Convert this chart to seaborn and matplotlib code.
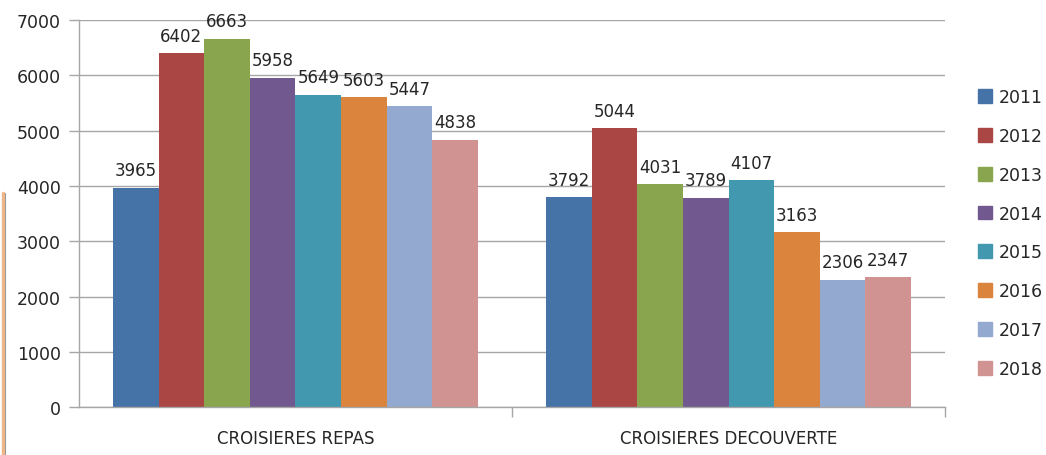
import numpy as np
import pandas as pd
import seaborn as sns
import matplotlib.pyplot as plt
from matplotlib.lines import Line2D

categories = ["CROISIERES REPAS", "CROISIERES DECOUVERTE"]
years = ["2011", "2012", "2013", "2014", "2015", "2016", "2017", "2018"]
repas = [3965, 6402, 6663, 5958, 5649, 5603, 5447, 4838]
decouverte = [3792, 5044, 4031, 3789, 4107, 3163, 2306, 2347]
colors = ["#4572A7", "#AA4643", "#89A54E", "#71588F", "#4198AF", "#DB843D", "#93A9CF", "#D19392"]

rows = []
for y, a, b in zip(years, repas, decouverte):
    rows.append({"cat": categories[0], "year": y, "value": a})
    rows.append({"cat": categories[1], "year": y, "value": b})
df = pd.DataFrame(rows)

sns.set_style("white")
plt.rcParams['font.family'] = ['DejaVu Sans']

fig = plt.figure(figsize=(10.46, 4.56), dpi=100)
ax = fig.add_axes([0.0755, 0.105, 0.828, 0.849])

sns.barplot(data=df, x="cat", y="value", hue="year", order=categories, hue_order=years,
            palette=colors, width=0.843, saturation=1, linewidth=0, ax=ax, legend=False)

for c in ax.containers:
    ax.bar_label(c, fmt="%d", padding=6, fontsize=12, color="#262626")

ax.set_ylim(0, 7000)
ax.set_xlim(-0.5, 1.5)
ax.set_yticks(range(0, 7001, 1000))
ax.yaxis.grid(True, color="#a6a6a6", linewidth=1)
ax.set_axisbelow(True)
ax.set_xlabel("")
ax.set_ylabel("")
ax.set_xticks([0, 1])
ax.set_xticklabels(categories, fontsize=12, color="#262626")
ax.set_xticks([0.5, 1.5], minor=True)
ax.tick_params(axis="x", which="major", length=0, pad=16)
ax.tick_params(axis="x", which="minor", length=7, color="#a6a6a6", width=1, direction="out",
               bottom=True)
ax.tick_params(axis="y", length=7, color="#a6a6a6", width=1, direction="out", labelsize=12.5,
               labelcolor="#262626", pad=6, left=True)
ax.spines["top"].set_visible(False)
ax.spines["right"].set_visible(False)
for s in ["left", "bottom"]:
    ax.spines[s].set_color("#a6a6a6")
    ax.spines[s].set_linewidth(1)

handles = [plt.Rectangle((0, 0), 1, 1, color=c) for c in colors]
fig.legend(handles, years, loc="upper left", bbox_to_anchor=(0.928, 0.82), frameon=False,
           fontsize=12.5, handlelength=0.85, handleheight=0.85, handletextpad=0.35,
           labelspacing=1.2, borderaxespad=0)

# left edge strip of the screenshot
fig.add_artist(Line2D([0.0028, 0.0028], [0, 0.575], color="#f0b88a", linewidth=2.5,
                      transform=fig.transFigure))
fig.add_artist(Line2D([0.0052, 0.0052], [0, 0.575], color="#9a9a9a", linewidth=0.8,
                      transform=fig.transFigure))

fig.savefig("out.png", dpi=100)
